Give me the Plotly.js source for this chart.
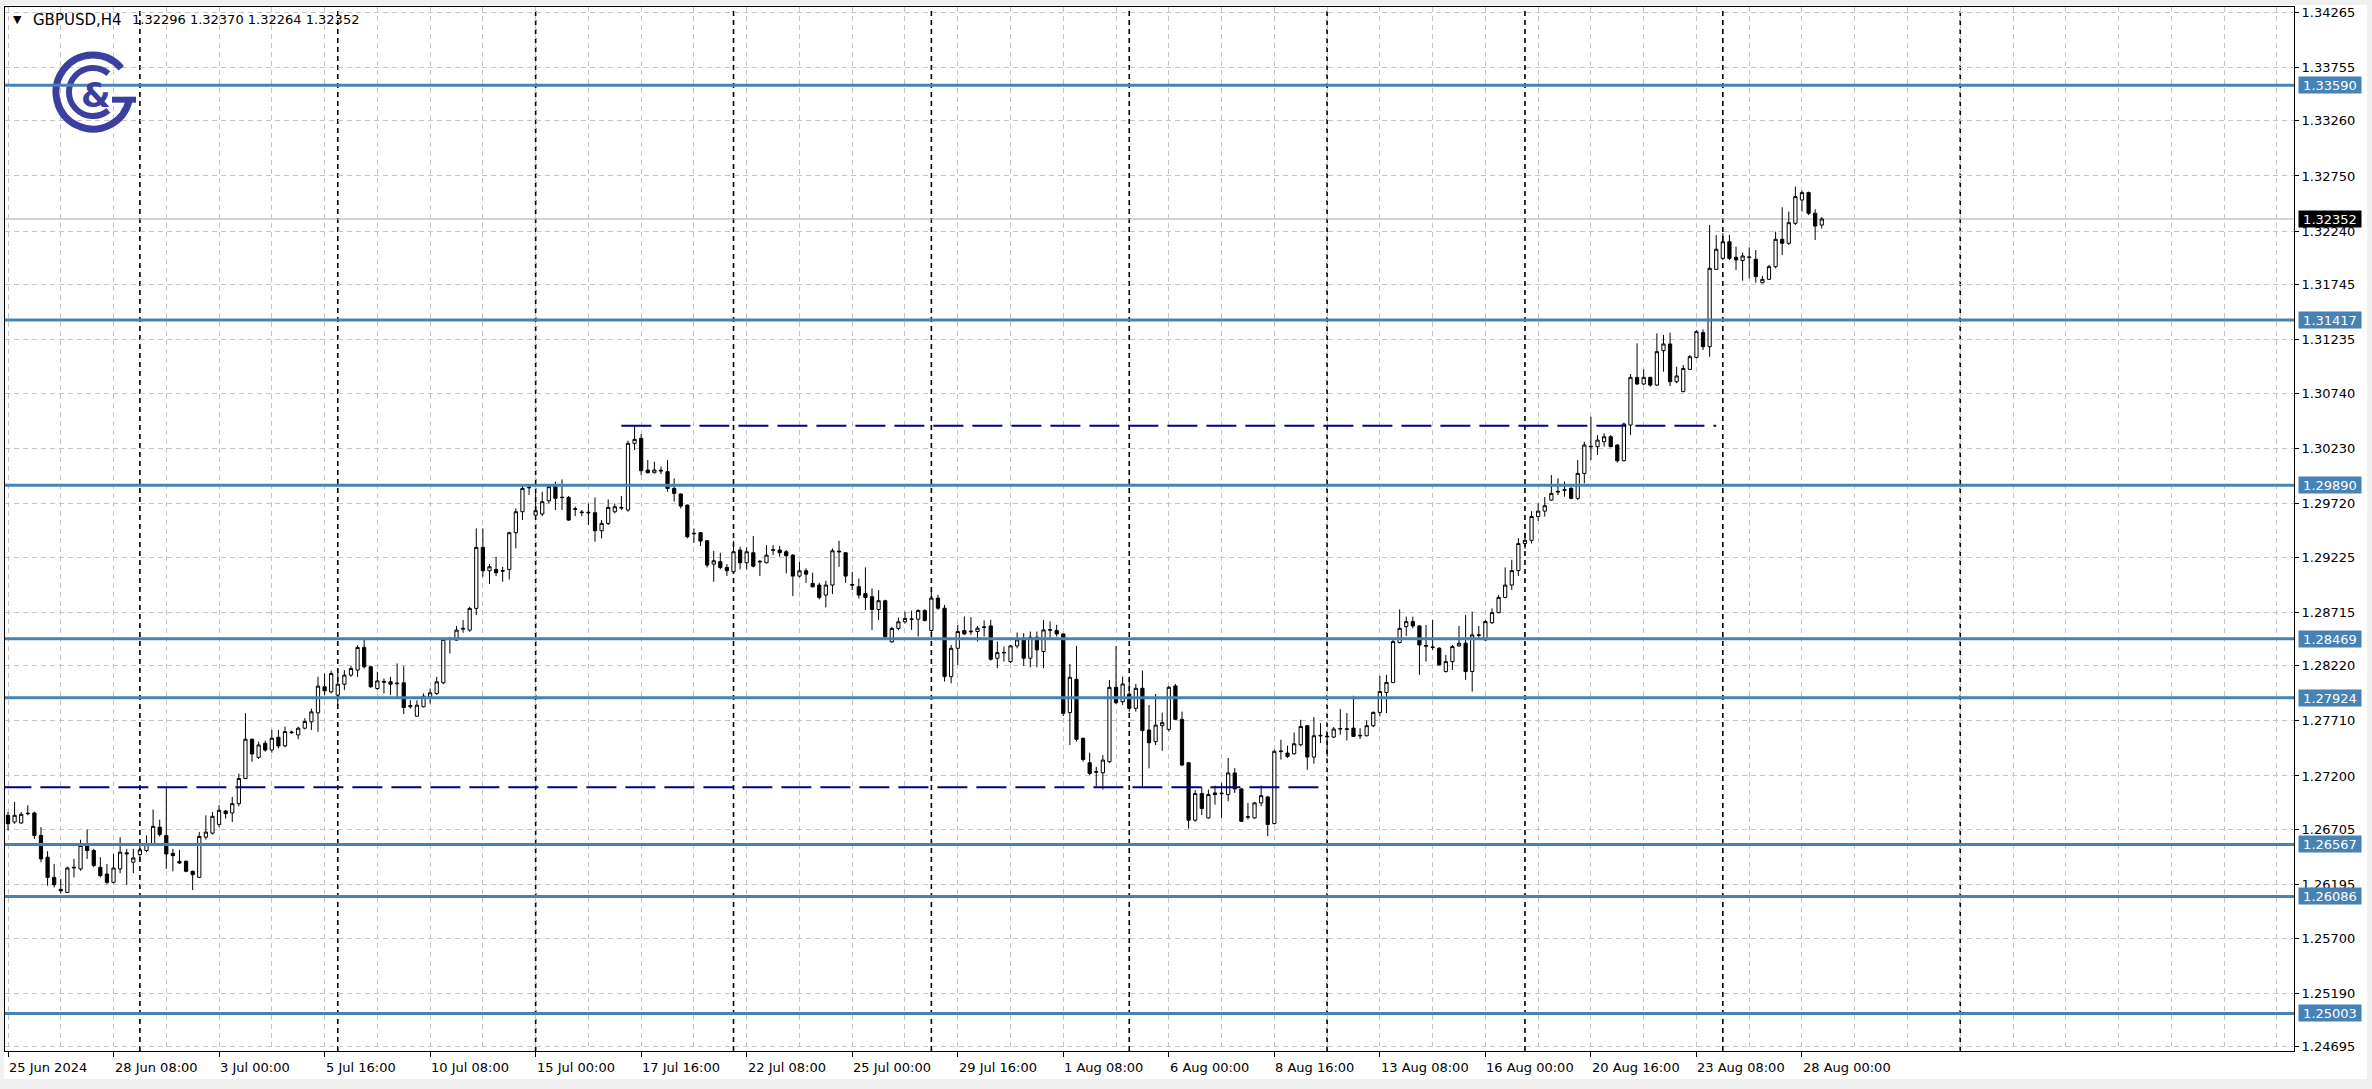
<!DOCTYPE html>
<html><head><meta charset="utf-8">
<script src="https://cdn.plot.ly/plotly-3.0.1.min.js"></script>
<style>html,body{margin:0;padding:0;background:#fff;overflow:hidden}#chart{width:2372px;height:1089px}</style>
</head><body><div id="chart"></div>
<script>
// ---------------- DATA ----------------
const symbolTitle = "GBPUSD,H4";
const lastBarOHLC = ["1.32296", "1.32370", "1.32264", "1.32352"];

const openP = [
1.26836,1.26774,1.26765,1.26851,1.26858,1.26650,1.26448,1.26262,1.26151,1.26123,
1.26349,1.26340,1.26557,1.26510,1.26355,1.26293,1.26216,1.26340,1.26489,1.26402,
1.26473,1.26510,1.26566,1.26727,1.26650,1.26484,1.26410,1.26411,1.26318,1.26262,
1.26634,1.26671,1.26752,1.26876,1.26858,1.26944,1.27177,1.27540,1.27372,1.27502,
1.27440,1.27558,1.27478,1.27600,1.27580,1.27642,1.27701,1.27784,1.28025,1.27978,
1.27948,1.28049,1.28133,1.28179,1.28389,1.28210,1.28009,1.28075,1.28071,1.28060,
1.28062,1.27840,1.27753,1.27840,1.27932,1.27963,1.28062,1.28463,1.28457,1.28558,
1.28549,1.28750,1.29314,1.29098,1.29111,1.29100,1.29111,1.29450,1.29644,1.29865,
1.29613,1.29623,1.29746,1.29876,1.29775,1.29777,1.29666,1.29635,1.29640,1.29635,
1.29468,1.29536,1.29644,1.29678,1.29660,1.30277,1.30323,1.30030,1.30005,1.30020,
1.30015,1.29860,1.29808,1.29706,1.29440,1.29450,1.29376,1.29160,1.29182,1.29129,
1.29089,1.29290,1.29172,1.29265,1.29180,1.29172,1.29288,1.29290,1.29274,1.29243,
1.29049,1.29098,1.28981,1.28966,1.28873,1.28966,1.29280,1.29265,1.28970,1.28950,
1.28888,1.28858,1.28740,1.28821,1.28441,1.28565,1.28626,1.28648,1.28650,1.28730,
1.28545,1.28845,1.28752,1.28119,1.28381,1.28545,1.28533,1.28536,1.28574,1.28588,
1.28289,1.28338,1.28258,1.28403,1.28474,1.28289,1.28483,1.28351,1.28548,1.28545,
1.28514,1.27786,1.28094,1.27548,1.27322,1.27240,1.27230,1.27332,1.28020,1.27887,
1.27958,1.27826,1.28011,1.27625,1.27517,1.27665,1.27631,1.28033,1.27724,1.27322,
1.26791,1.27038,1.26812,1.27043,1.27035,1.27028,1.27228,1.27080,1.26818,1.26812,
1.26951,1.27006,1.26760,1.27425,1.27412,1.27406,1.27489,1.27665,1.27375,1.27570,
1.27568,1.27560,1.27634,1.27636,1.27643,1.27570,1.27572,1.27665,1.27788,1.27972,
1.28065,1.28434,1.28582,1.28628,1.28588,1.28400,1.28393,1.28382,1.28166,1.28258,
1.28403,1.28428,1.28166,1.28500,1.28458,1.28618,1.28711,1.28852,1.28966,1.29100,
1.29350,1.29380,1.29600,1.29650,1.29752,1.29826,1.29842,1.29860,1.29768,1.29999,
1.30250,1.30246,1.30292,1.30338,1.30261,1.30116,1.30446,1.30887,1.30826,1.30887,
1.30816,1.31134,1.31196,1.30847,1.30755,1.30961,1.31072,1.31301,1.31171,1.31886,
1.31988,1.32142,1.31998,1.31967,1.31995,1.31979,1.31763,1.31794,1.31911,1.32164,
1.32127,1.32312,1.32528,1.32596,1.32405,1.32296];

const highP = [
1.26867,1.26960,1.26867,1.26929,1.26870,1.26727,1.26504,1.26386,1.26247,1.26360,
1.26433,1.26610,1.26703,1.26526,1.26448,1.26386,1.26479,1.26634,1.26526,1.26526,
1.26572,1.26650,1.26889,1.26796,1.27099,1.26526,1.26517,1.26417,1.26325,1.26681,
1.26836,1.26867,1.26929,1.26885,1.27006,1.27223,1.27781,1.27545,1.27518,1.27527,
1.27626,1.27626,1.27657,1.27620,1.27657,1.27735,1.27824,1.28117,1.28148,1.28173,
1.28185,1.28179,1.28216,1.28410,1.28463,1.28220,1.28163,1.28102,1.28117,1.28241,
1.28216,1.27901,1.27901,1.27963,1.28009,1.28117,1.28472,1.28487,1.28586,1.28642,
1.28765,1.29490,1.29490,1.29160,1.29228,1.29135,1.29459,1.29675,1.29891,1.29900,
1.29829,1.29829,1.29891,1.29922,1.29943,1.29790,1.29691,1.29660,1.29721,1.29777,
1.29567,1.29758,1.29721,1.29789,1.30301,1.30440,1.30363,1.30122,1.30107,1.30061,
1.30122,1.29953,1.29815,1.29710,1.29490,1.29455,1.29380,1.29283,1.29265,1.29160,
1.29376,1.29320,1.29314,1.29419,1.29197,1.29336,1.29336,1.29327,1.29290,1.29250,
1.29182,1.29120,1.29080,1.28987,1.29006,1.29305,1.29376,1.29270,1.29089,1.29027,
1.29129,1.28935,1.28919,1.28830,1.28580,1.28666,1.28719,1.28730,1.28743,1.28743,
1.28922,1.28876,1.28783,1.28412,1.28598,1.28675,1.28669,1.28588,1.28638,1.28644,
1.28443,1.28397,1.28412,1.28527,1.28520,1.28536,1.28536,1.28644,1.28629,1.28598,
1.28520,1.28236,1.28403,1.27555,1.27415,1.27285,1.27393,1.28088,1.28403,1.28119,
1.28119,1.28051,1.28175,1.27857,1.27958,1.27786,1.28033,1.28051,1.27795,1.27330,
1.27069,1.27100,1.27074,1.27111,1.27135,1.27366,1.27274,1.27090,1.26951,1.26960,
1.27111,1.27015,1.27443,1.27535,1.27480,1.27603,1.27720,1.27670,1.27745,1.27689,
1.27597,1.27652,1.27818,1.27782,1.27942,1.27643,1.27714,1.27797,1.28126,1.28135,
1.28458,1.28741,1.28674,1.28674,1.28595,1.28597,1.28643,1.28390,1.28320,1.28412,
1.28588,1.28689,1.28720,1.28588,1.28643,1.28751,1.28874,1.29129,1.29200,1.29400,
1.29450,1.29650,1.29720,1.29780,1.29984,1.29953,1.29922,1.29875,1.30122,1.30292,
1.30523,1.30354,1.30369,1.30354,1.30270,1.30468,1.30918,1.31202,1.30961,1.30893,
1.31294,1.31279,1.31301,1.30986,1.31001,1.31094,1.31325,1.31331,1.32297,1.32204,
1.32220,1.32204,1.32096,1.32041,1.32090,1.32065,1.31825,1.31927,1.32235,1.32460,
1.32420,1.32651,1.32614,1.32605,1.32442,1.32370];

const lowP = [
1.26696,1.26758,1.26758,1.26836,1.26619,1.26402,1.26185,1.26169,1.26114,1.26120,
1.26262,1.26324,1.26433,1.26355,1.26262,1.26200,1.26205,1.26300,1.26194,1.26300,
1.26417,1.26495,1.26557,1.26640,1.26340,1.26318,1.26386,1.26310,1.26145,1.26256,
1.26610,1.26659,1.26727,1.26805,1.26774,1.26920,1.27170,1.27332,1.27357,1.27425,
1.27415,1.27456,1.27465,1.27590,1.27540,1.27630,1.27624,1.27608,1.27948,1.27963,
1.27855,1.27994,1.28117,1.28117,1.28194,1.28015,1.27994,1.27963,1.27948,1.27926,
1.27772,1.27824,1.27750,1.27835,1.27870,1.27948,1.28049,1.28333,1.28450,1.28524,
1.28534,1.28688,1.29043,1.28975,1.29049,1.28996,1.29018,1.29305,1.29567,1.29799,
1.29610,1.29604,1.29721,1.29660,1.29660,1.29560,1.29604,1.29604,1.29521,1.29367,
1.29398,1.29521,1.29629,1.29660,1.29644,1.30215,1.29984,1.29999,1.29999,1.29993,
1.29829,1.29737,1.29675,1.29398,1.29357,1.29327,1.29129,1.28996,1.29111,1.29049,
1.29074,1.29111,1.29111,1.29129,1.29049,1.29166,1.29243,1.29228,1.29074,1.28864,
1.29037,1.28987,1.28944,1.28833,1.28759,1.28882,1.29135,1.28987,1.28919,1.28842,
1.28734,1.28549,1.28642,1.28480,1.28432,1.28549,1.28611,1.28551,1.28490,1.28629,
1.28520,1.28737,1.28073,1.28057,1.28227,1.28505,1.28505,1.28443,1.28490,1.28267,
1.28196,1.28258,1.28243,1.28381,1.28218,1.28205,1.28205,1.28196,1.28474,1.28490,
1.27755,1.27486,1.27517,1.27332,1.27208,1.27106,1.27075,1.27322,1.27866,1.27857,
1.27795,1.27795,1.27100,1.27270,1.27486,1.27433,1.27610,1.27718,1.27291,1.26714,
1.26776,1.26838,1.26805,1.26935,1.26812,1.26966,1.27043,1.26775,1.26797,1.26805,
1.26920,1.26643,1.26751,1.27351,1.27366,1.27397,1.27474,1.27258,1.27314,1.27505,
1.27381,1.27551,1.27582,1.27529,1.27560,1.27542,1.27566,1.27652,1.27751,1.27782,
1.28058,1.28428,1.28495,1.28566,1.28135,1.28258,1.28366,1.28220,1.28157,1.28181,
1.28397,1.28089,1.27981,1.28474,1.28452,1.28606,1.28705,1.28843,1.28920,1.29050,
1.29300,1.29350,1.29560,1.29600,1.29745,1.29799,1.29783,1.29760,1.29752,1.29907,
1.30122,1.30169,1.30246,1.30240,1.30098,1.30110,1.30354,1.30816,1.30816,1.30801,
1.30807,1.30940,1.30807,1.30832,1.30750,1.30955,1.31063,1.31140,1.31078,1.31880,
1.31973,1.31973,1.31880,1.31782,1.31803,1.31763,1.31757,1.31788,1.31896,1.32019,
1.32112,1.32297,1.32420,1.32389,1.32158,1.32264];

const closeP = [
1.26758,1.26836,1.26845,1.26855,1.26650,1.26433,1.26262,1.26194,1.26138,1.26349,
1.26355,1.26557,1.26510,1.26371,1.26278,1.26216,1.26349,1.26495,1.26480,1.26442,
1.26516,1.26566,1.26734,1.26659,1.26479,1.26463,1.26395,1.26318,1.26287,1.26641,
1.26681,1.26827,1.26882,1.26851,1.26944,1.27177,1.27540,1.27403,1.27487,1.27440,
1.27549,1.27478,1.27611,1.27605,1.27642,1.27704,1.27793,1.28031,1.27988,1.28148,
1.28049,1.28133,1.28194,1.28389,1.28210,1.28025,1.28080,1.28068,1.28049,1.28054,
1.27833,1.27850,1.27855,1.27938,1.27969,1.28071,1.28463,1.28470,1.28549,1.28565,
1.28750,1.29314,1.29098,1.29135,1.29080,1.29095,1.29450,1.29644,1.29860,1.29870,
1.29654,1.29737,1.29876,1.29768,1.29777,1.29567,1.29670,1.29640,1.29635,1.29468,
1.29536,1.29684,1.29691,1.29684,1.30277,1.30314,1.30024,1.30005,1.30030,1.30027,
1.29860,1.29814,1.29697,1.29413,1.29444,1.29373,1.29151,1.29191,1.29129,1.29098,
1.29274,1.29172,1.29274,1.29141,1.29185,1.29243,1.29292,1.29265,1.29237,1.29049,
1.29098,1.29067,1.28950,1.28851,1.28966,1.29283,1.29274,1.29049,1.28966,1.28873,
1.28851,1.28740,1.28821,1.28487,1.28565,1.28626,1.28657,1.28652,1.28730,1.28638,
1.28845,1.28752,1.28119,1.28381,1.28536,1.28514,1.28538,1.28567,1.28578,1.28280,
1.28341,1.28343,1.28403,1.28459,1.28289,1.28483,1.28366,1.28551,1.28553,1.28514,
1.27779,1.28113,1.27539,1.27353,1.27224,1.27236,1.27347,1.28020,1.27878,1.28051,
1.27826,1.28011,1.27619,1.27508,1.27671,1.27693,1.28020,1.27724,1.27301,1.26791,
1.27038,1.26899,1.27028,1.27028,1.27040,1.27228,1.27080,1.26781,1.26823,1.26951,
1.27018,1.26751,1.27428,1.27430,1.27381,1.27498,1.27658,1.27375,1.27572,1.27575,
1.27563,1.27634,1.27638,1.27632,1.27566,1.27575,1.27665,1.27788,1.27981,1.28065,
1.28443,1.28566,1.28628,1.28588,1.28412,1.28405,1.28390,1.28228,1.28258,1.28397,
1.28428,1.28166,1.28505,1.28505,1.28628,1.28711,1.28852,1.28966,1.29100,1.29350,
1.29380,1.29600,1.29650,1.29700,1.29814,1.29832,1.29848,1.29768,1.29999,1.30261,
1.30246,1.30307,1.30338,1.30246,1.30116,1.30456,1.30887,1.30826,1.30887,1.30816,
1.31125,1.31196,1.30847,1.30900,1.30970,1.31078,1.31310,1.31171,1.31896,1.32072,
1.32142,1.31988,1.31973,1.32010,1.32000,1.31819,1.31794,1.31911,1.32164,1.32127,
1.32318,1.32559,1.32596,1.32405,1.32287,1.32352];

const xLabels = ["25 Jun 2024","28 Jun 08:00","3 Jul 00:00","5 Jul 16:00","10 Jul 08:00",
  "15 Jul 00:00","17 Jul 16:00","22 Jul 08:00","25 Jul 00:00","29 Jul 16:00","1 Aug 08:00",
  "6 Aug 00:00","8 Aug 16:00","13 Aug 08:00","16 Aug 00:00","20 Aug 16:00","23 Aug 08:00","28 Aug 00:00"];
const xLabelBars = [0,16,32,48,64,80,96,112,128,144,160,176,192,208,224,240,256,272];
const weekStartBars = [20,50,80,110,140,170,200,230,260,296];

const priceTicks = [1.34265,1.33755,1.33260,1.32750,1.32240,1.31745,1.31235,1.30740,1.30230,1.29720,
  1.29225,1.28715,1.28220,1.27710,1.27200,1.26705,1.26195,1.25700,1.25190,1.24695];
const levelPrices = [1.33590,1.31417,1.29890,1.28469,1.27924,1.26567,1.26086,1.25003];
const trendPrices = [1.30440, 1.27095];
const trendFromBar = [93, -1];
const trendToBar = [259, 199];
const bidPrice = 1.32352;

// ---------------- LAYOUT / STYLE ----------------
const W = 2372, H = 1089;
const M = {l: 5, r: 78, t: 7, b: 38};
const PW = W - M.l - M.r, PH = H - M.t - M.b;
const px2pX = px => (px - M.l) / PW;
const px2pY = py => (H - M.b - py) / PH;
const FONT = "DejaVu Sans";
const BLUE = "#4682B4";
const GRID = "#c4c4c4";
const LOGO = "#3b3f9f";

const bars = openP.map((_, i) => i);

const candle = {
  type: "candlestick", x: bars, open: openP, high: highP, low: lowP, close: closeP,
  increasing: {line: {color: "#000", width: 1}, fillcolor: "#fff"},
  decreasing: {line: {color: "#000", width: 1}, fillcolor: "#000"},
  whiskerwidth: 0, hoverinfo: "skip", showlegend: false
};

const shapes = [];
// outer window frame (gray)
shapes.push({type:"rect", xref:"paper", yref:"paper", x0:px2pX(0), x1:px2pX(W), y0:px2pY(H), y1:px2pY(1079), fillcolor:"#f0f0f0", line:{width:0}, layer:"below"});
shapes.push({type:"rect", xref:"paper", yref:"paper", x0:px2pX(0), x1:px2pX(4), y0:px2pY(H), y1:px2pY(0), fillcolor:"#f0f0f0", line:{width:0}, layer:"below"});
shapes.push({type:"rect", xref:"paper", yref:"paper", x0:px2pX(0), x1:px2pX(W), y0:px2pY(5), y1:px2pY(0), fillcolor:"#f0f0f0", line:{width:0}, layer:"below"});
shapes.push({type:"rect", xref:"paper", yref:"paper", x0:px2pX(W-5), x1:px2pX(W), y0:px2pY(H), y1:px2pY(0), fillcolor:"#f0f0f0", line:{width:0}, layer:"below"});
// week separators
weekStartBars.forEach(b => shapes.push({type:"line", xref:"x", yref:"paper", x0:b, x1:b, y0:0, y1:1,
  line:{color:"#000", width:1.6, dash:"5px,4px"}, layer:"below"}));
// bid line
shapes.push({type:"line", xref:"paper", yref:"y", x0:0, x1:1, y0:bidPrice, y1:bidPrice, line:{color:"#a8a8a8", width:1}, layer:"below"});
// horizontal levels
levelPrices.forEach(p => shapes.push({type:"line", xref:"paper", yref:"y", x0:0, x1:1, y0:p, y1:p,
  line:{color:BLUE, width:3}, layer:"above"}));
// dashed trend levels
trendPrices.forEach((p, k) => shapes.push({type:"line", xref:"x", yref:"y", x0:trendFromBar[k], x1:trendToBar[k], y0:p, y1:p,
  line:{color:"#000080", width:2, dash:"30px,9px"}, layer:"above"}));

const annotations = [];
const hdrFont = {family:FONT, size:13, color:"#000"};
annotations.push({xref:"paper", yref:"paper", x:px2pX(11), y:px2pY(20), xanchor:"left", yanchor:"middle", showarrow:false,
  text:"▼", font:{family:FONT, size:11, color:"#000"}});
annotations.push({xref:"paper", yref:"paper", x:px2pX(31), y:px2pY(20), xanchor:"left", yanchor:"middle", showarrow:false,
  text:symbolTitle, font:{family:FONT, size:15, color:"#000"}});
annotations.push({xref:"paper", yref:"paper", x:px2pX(130), y:px2pY(20), xanchor:"left", yanchor:"middle", showarrow:false,
  text:lastBarOHLC.join(" "), font:hdrFont});
xLabels.forEach((t, k) => annotations.push({xref:"x", yref:"paper", x:xLabelBars[k], y:0, xanchor:"left", yanchor:"top",
  xshift:-1, yshift:-7, showarrow:false, text:t, font:{family:FONT, size:13, color:"#000"}}));
levelPrices.forEach(p => annotations.push({xref:"paper", yref:"y", x:1, y:p, xanchor:"left", yanchor:"middle", xshift:4,
  showarrow:false, text:p.toFixed(5), bgcolor:BLUE, borderpad:1, width:60, height:14, font:{family:FONT, size:13, color:"#fff"}}));
annotations.push({xref:"paper", yref:"y", x:1, y:bidPrice, xanchor:"left", yanchor:"middle", xshift:4,
  showarrow:false, text:bidPrice.toFixed(5), bgcolor:"#000", borderpad:1, width:60, height:14, font:{family:FONT, size:13, color:"#fff"}});
// logo ampersand
annotations.push({xref:"paper", yref:"paper", x:px2pX(96), y:px2pY(95), xanchor:"center", yanchor:"middle", showarrow:false,
  text:"<b>&</b>", font:{family:FONT, size:34, color:LOGO}});

const logoSvg = '<svg xmlns="http://www.w3.org/2000/svg" width="90" height="90" viewBox="0 0 90 90">' +
  '<g fill="none" stroke="' + LOGO + '" stroke-linecap="butt">' +
  '<path d="M71.3,22.2 A37,37 0 1 0 79.2,53.7" stroke-width="7"/>' +
  '<path d="M62,53.7 L86,53.7" stroke-width="6"/>' +
  '<path d="M58.4,27.6 A24,24 0 1 0 58.4,64.4" stroke-width="6"/>' +
  '</g></svg>';

const layout = {
  width: W, height: H, margin: M, paper_bgcolor: "#fff", plot_bgcolor: "#fff",
  showlegend: false, boxgap: 0.3,
  xaxis: {type:"linear", range:[-0.455, 346.6], rangeslider:{visible:false}, fixedrange:true,
    tickmode:"array", tickvals:xLabelBars, showticklabels:false, ticks:"outside", ticklen:5, tickcolor:"#000",
    showgrid:true, gridcolor:GRID, griddash:"5px,4px", gridwidth:1,
    minor:{tickmode:"linear", tick0:0, dtick:8, showgrid:true, gridcolor:GRID, griddash:"5px,4px", ticks:""},
    showline:true, mirror:true, linecolor:"#000", linewidth:1, zeroline:false},
  yaxis: {side:"right", range:[1.24656, 1.34313], fixedrange:true, tickmode:"array", tickvals:priceTicks,
    ticktext:priceTicks.map(v => v.toFixed(5)), ticks:"outside", ticklen:4, tickcolor:"#000",
    tickfont:{family:FONT, size:13, color:"#000"},
    showgrid:true, gridcolor:GRID, griddash:"5px,4px", gridwidth:1,
    showline:true, mirror:true, linecolor:"#000", linewidth:1, zeroline:false},
  shapes: shapes, annotations: annotations,
  images: [{source:"data:image/svg+xml;charset=utf-8," + encodeURIComponent(logoSvg), xref:"paper", yref:"paper",
    x:px2pX(50), y:px2pY(46), sizex:90/PW, sizey:90/PH, xanchor:"left", yanchor:"top", sizing:"stretch", layer:"above"}]
};

Plotly.newPlot("chart", [candle], layout, {staticPlot:true, displayModeBar:false});
</script>
</body></html>
